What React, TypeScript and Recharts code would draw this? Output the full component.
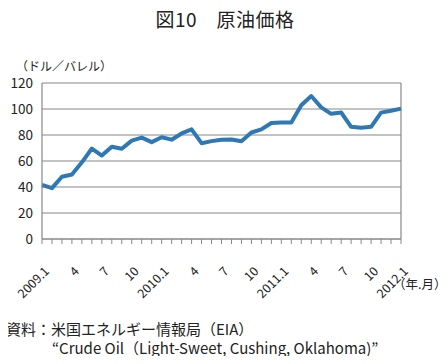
import React from "react";
import {
  LineChart,
  Line,
  XAxis,
  YAxis,
  CartesianGrid,
  ReferenceLine,
} from "recharts";

const months = [
  "2009.1", "2009.2", "2009.3", "2009.4", "2009.5", "2009.6", "2009.7", "2009.8", "2009.9", "2009.10", "2009.11", "2009.12",
  "2010.1", "2010.2", "2010.3", "2010.4", "2010.5", "2010.6", "2010.7", "2010.8", "2010.9", "2010.10", "2010.11", "2010.12",
  "2011.1", "2011.2", "2011.3", "2011.4", "2011.5", "2011.6", "2011.7", "2011.8", "2011.9", "2011.10", "2011.11", "2011.12",
  "2012.1",
];

const tickLabels = [
  "2009.1", "4", "7", "10", "2010.1", "4", "7", "10", "2011.1", "4", "7", "10", "2012.1",
];

const prices = [
  41.7, 39.1, 47.9, 49.6, 59.0, 69.6, 64.2, 71.0, 69.4, 75.7, 78.0, 74.5,
  78.3, 76.4, 81.2, 84.3, 73.7, 75.3, 76.3, 76.6, 75.2, 81.9, 84.3, 89.2,
  89.6, 89.7, 102.9, 110.0, 101.3, 96.3, 97.3, 86.3, 85.5, 86.3, 97.2, 98.6,
  100.3,
];

const yTicks = [0, 20, 40, 60, 80, 100, 120];

const data = months.map((m, i) => ({ month: m, price: prices[i] }));

const FONT = '"Noto Sans CJK JP", "Noto Sans", sans-serif';

const XTick = (props: any) => {
  const { x, y, index } = props;
  if (index % 3 !== 0) return null;
  const label = tickLabels[index / 3];
  return (
    <g transform={`translate(${x + 8},${y + 26})`}>
      <text
        x={0}
        y={0}
        textAnchor="end"
        fontSize={12.5}
        fontFamily={FONT}
        fill="#222"
        transform="rotate(-45)"
      >
        {label}
      </text>
    </g>
  );
};

const YTick = (props: any) => {
  const { y, payload } = props;
  return (
    <text
      x={33}
      y={y + 5}
      textAnchor="end"
      fontSize={13.5}
      fontFamily={FONT}
      fill="#222"
    >
      {payload.value}
    </text>
  );
};

export default function App() {
  return (
    <div style={{ position: "relative", width: 448, height: 364, margin: -8, background: "#fff", fontFamily: FONT, color: "#222" }}>
      <div style={{ position: "absolute", top: 5, left: 1, width: 448, textAlign: "center", fontSize: 19, fontWeight: 400, letterSpacing: 0.5 }}>
        図10　原油価格
      </div>
      <div style={{ position: "absolute", top: 57, left: 16, fontSize: 12 }}>
        （ドル／バレル）
      </div>
      <LineChart
        width={448}
        height={364}
        data={data}
        margin={{ top: 83, right: 47, left: 0, bottom: 85 }}
      >
        <CartesianGrid vertical={false} stroke="#888" strokeWidth={1.2} />
        <ReferenceLine x="2012.1" stroke="#888" strokeWidth={1.2} />
        <XAxis
          dataKey="month"
          interval={0}
          height={40}
          axisLine={{ stroke: "#888", strokeWidth: 1.2 }}
          tickLine={{ stroke: "#888" }}
          tickSize={5}
          tick={<XTick />}
        />
        <YAxis
          width={42}
          domain={[0, 120]}
          ticks={yTicks}
          axisLine={{ stroke: "#888", strokeWidth: 1.2 }}
          tickLine={false}
          tick={<YTick />}
        />
        <Line
          type="linear"
          dataKey="price"
          stroke="#2e78b5"
          strokeWidth={4}
          dot={false}
          strokeLinejoin="round"
          isAnimationActive={false}
        />
      </LineChart>
      <div style={{ position: "absolute", top: 274, left: 393, fontSize: 12.5 }}>
        （年.月）
      </div>
      <div style={{ position: "absolute", top: 319, left: 6, fontSize: 15, lineHeight: "19px" }}>
        資料：米国エネルギー情報局（EIA）
        <div style={{ paddingLeft: 46 }}>“Crude Oil（Light-Sweet, Cushing, Oklahoma)”</div>
      </div>
    </div>
  );
}
